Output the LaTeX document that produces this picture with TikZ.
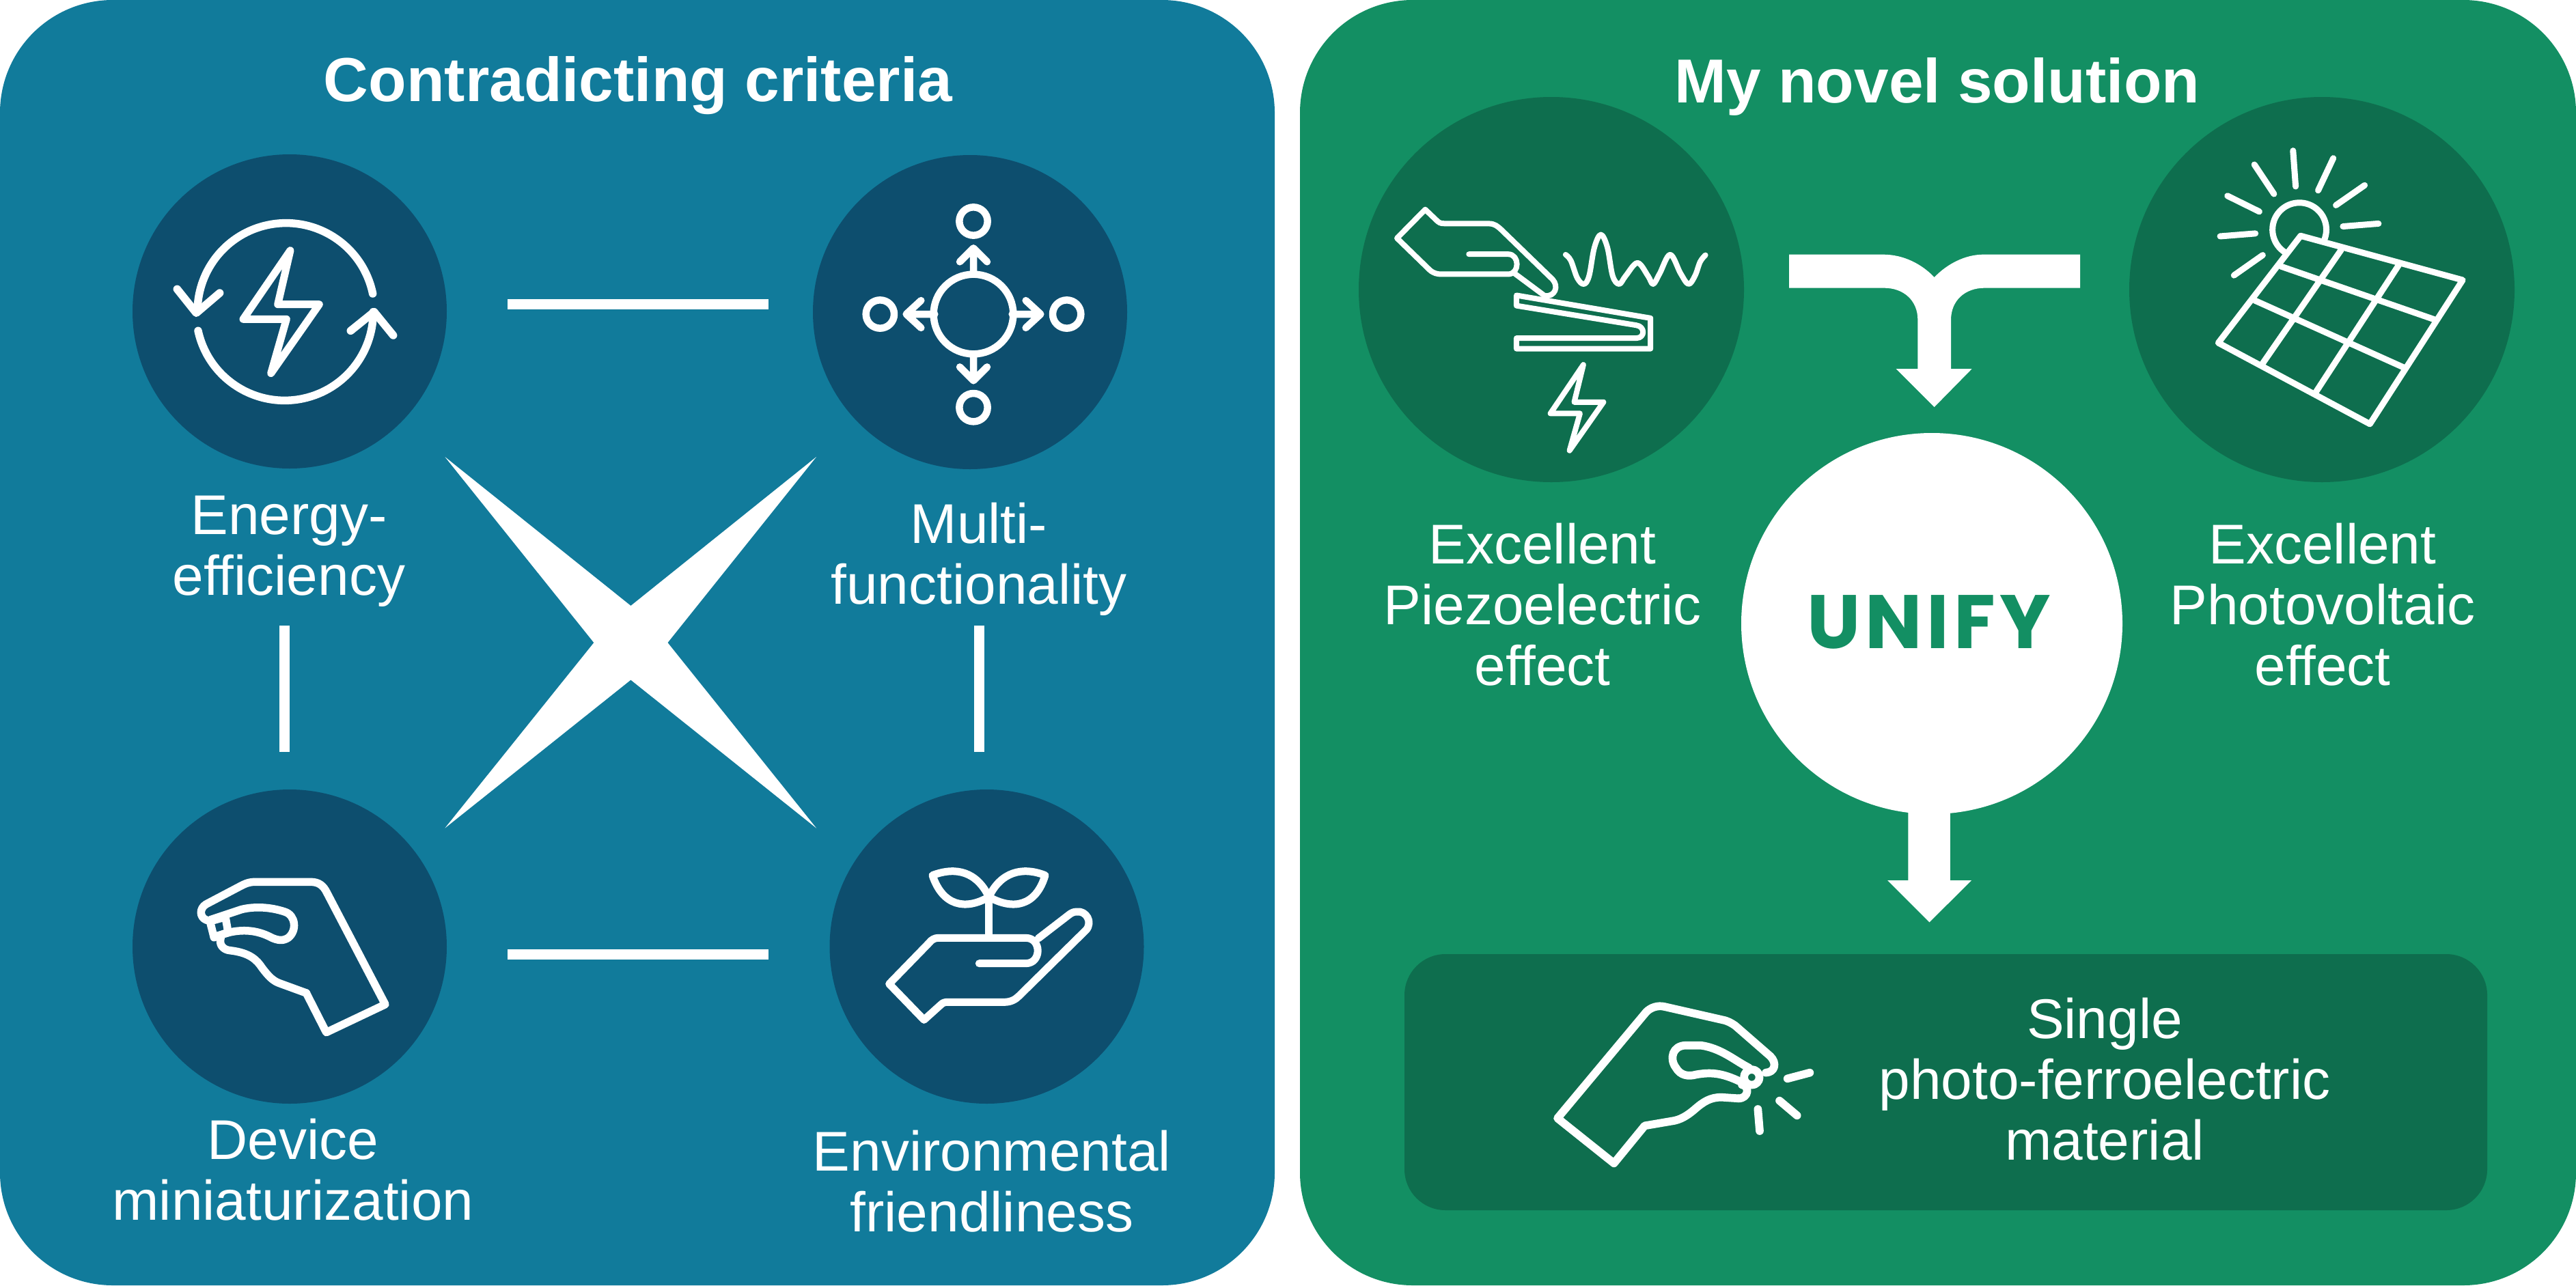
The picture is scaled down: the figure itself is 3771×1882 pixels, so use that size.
\documentclass[tikz,border=0pt]{standalone}
\usepackage{fontspec}
\setmainfont{Liberation Sans}
\newfontfamily\unifyf[LetterSpace=6]{Poppins}
\definecolor{panelblue}{RGB}{17,123,155}
\definecolor{darkblue}{RGB}{13,78,110}
\definecolor{panelgreen}{RGB}{19,143,99}
\definecolor{darkgreen}{RGB}{14,110,78}
\tikzset{
  panelbox/.style={rounded corners=165pt,minimum height=1882pt,inner sep=0pt,outer sep=0pt},
  disc/.style={circle,inner sep=0pt,outer sep=0pt,minimum size=2*#1},
  label/.style={text=white,align=center,inner sep=0pt,font=\fontsize{82}{89}\selectfont},
  titletext/.style={text=white,align=center,inner sep=0pt,font=\fontsize{91}{96}\selectfont\bfseries},
  zm/.style 2 args={shift={(#1,#2)},x=.33333pt,y=-.33333pt},
  zmw/.style 2 args={shift={(#1,#2)},x=.38265pt,y=-.34439pt},
  ico/.style={draw=white,line cap=round,line join=round,line width=#1},
  conn/.style={draw=white,line width=15pt},
}
\begin{document}
\begin{tikzpicture}[x=1pt,y=-1pt]
\useasboundingbox (0,0) rectangle (3771,1882);
% panels
\node[panelbox,fill=panelblue,minimum width=1866pt] (pl) at (933,941) {};
\node[panelbox,fill=panelgreen,minimum width=1868pt] (pr) at (2837,941) {};
% discs
\node[disc=230pt,fill=darkblue] (energy) at (424,456) {};
\node[disc=230pt,fill=darkblue] (multi) at (1420,457) {};
\node[disc=230pt,fill=darkblue] (device) at (424,1386) {};
\node[disc=230pt,fill=darkblue] (env) at (1444.5,1386) {};
\node[disc=282pt,fill=darkgreen] (piezo) at (2271,424) {};
\node[disc=282pt,fill=darkgreen] (photo) at (3399,424) {};
\node[disc=279pt,fill=white] (unify) at (2828,913) {};
\node[rounded corners=60pt,fill=darkgreen,minimum width=1585pt,minimum height=375pt,inner sep=0pt,outer sep=0pt] (single) at (2848.5,1584.5) {};
% titles and labels
\node[titletext] (t1) at (934,125) {Contradicting criteria};
\node[titletext] (t2) at (2836,127) {My novel solution};
\node[label] (l1) at (423,807) {Energy-\\efficiency};
\node[label] (l2) at (1433,819) {Multi-\\functionality};
\node[label] (l3) at (429,1713) {Device\\miniaturization};
\node[label] (l4) at (1452,1730) {Environmental\\friendliness};
\node[label] (l5) at (2258,885) {Excellent\\Piezoelectric\\effect};
\node[label] (l6) at (3400,885) {Excellent\\Photovoltaic\\effect};
\node[label] (l7) at (3081,1580) {Single\\photo-ferroelectric\\material};
\node[text=panelgreen,inner sep=0pt,font=\fontsize{111}{116}\selectfont\unifyf\bfseries] (ut) at (2824,911) {UNIFY};
% connectors
\coordinate (a1) at (743,445); \coordinate (a2) at (1125,445);
\coordinate (b1) at (743,1397); \coordinate (b2) at (1125,1397);
\coordinate (c1) at (416,916); \coordinate (c2) at (416,1101);
\coordinate (d1) at (1433,916); \coordinate (d2) at (1433,1101);
\draw[conn] (a1) -- (a2);
\draw[conn] (b1) -- (b2);
\draw[conn] (c1) -- (c2);
\draw[conn] (d1) -- (d2);
% contradiction cross
\fill[white] (651.4,669) -- (923.4,887) -- (1195,669) -- (977.4,941) -- (1195,1212.5) -- (923.4,995.5) -- (651.4,1212.5) -- (869.4,941) -- cycle;
% merging arrow
\begin{scope}[zm={2580}{340}]
\fill[white] (117,98) -- (530,98) .. controls (620,98) and (700,140) .. (755,198) .. controls (810,140) and (890,98) .. (970,98) -- (1395,98) -- (1395,245) -- (975,245) .. controls (890,245) and (828,300) .. (828,385) -- (828,600) -- (920,600) -- (755,768) -- (587,600) -- (682,600) -- (682,385) .. controls (682,300) and (620,245) .. (535,245) -- (117,245) -- cycle;
\end{scope}
% output arrow
\fill[white] (2793.4,1180) -- (2854.8,1180) -- (2854.8,1289) -- (2886,1289) -- (2824.5,1350.4) -- (2763,1289) -- (2793.4,1289) -- cycle;
% icon: energy
\begin{scope}[zm={180}{200}]
\draw[ico=11.5pt] (1097,690) arc[start angle=-11.7,end angle=-179.3,radius=389];
\draw[ico=11.5pt] (330,853) arc[start angle=167.7,end angle=0,radius=389];
\draw[ico=11.5pt] (238,670) -- (322,775) -- (425,687);
\draw[ico=11.5pt] (1000,853) -- (1103,770) -- (1187,873);
\draw[ico=11pt] (735,500) -- (528,802) -- (718,802) -- (650,1040) -- (862,737) -- (680,737) -- cycle;
\end{scope}
% icon: multi
\begin{scope}[zm={1180}{220}]
\draw[ico=10.5pt] (735,720) circle[radius=175];
\draw[ico=10.5pt] (735,312) circle[radius=62];
\draw[ico=10.5pt] (1145,720) circle[radius=62];
\draw[ico=10.5pt] (325,720) circle[radius=62];
\draw[ico=10.5pt] (735,1130) circle[radius=62];
\draw[ico=10.5pt] (735,545) -- (735,430) (675,490) -- (735,430) -- (795,490);
\draw[ico=10.5pt] (905,720) -- (1030,720) (965,660) -- (1030,720) -- (965,780);
\draw[ico=10.5pt] (565,720) -- (440,720) (505,660) -- (440,720) -- (505,780);
\draw[ico=10.5pt] (735,895) -- (735,1012) (675,952) -- (735,1012) -- (795,952);
\end{scope}
% icon: device
\begin{scope}[zm={180}{1150}]
\draw[ico=11.5pt] (805,912) -- (893,1085) -- (1152,962) -- (895,470) .. controls (880,440) and (860,424) .. (825,424) -- (580,424) .. controls (550,424) and (530,435) .. (515,443) -- (365,522) .. controls (335,540) and (335,580) .. (368,592);
\draw[ico=11.5pt] (385,590) -- (520,545) .. controls (580,530) and (650,535) .. (710,555) .. controls (760,570) and (765,640) .. (725,670) .. controls (700,685) and (680,680) .. (655,670) .. controls (600,640) and (540,630) .. (470,645) -- (400,665);
\draw[ico=11.5pt] (382,597) -- (450,578) -- (462,645) -- (400,668) -- cycle;
\draw[ico=11.5pt] (430,668) .. controls (420,700) and (440,722) .. (470,725) .. controls (560,735) and (590,770) .. (610,800) .. controls (640,840) and (660,860) .. (690,870) -- (805,912);
\end{scope}
% icon: environment
\begin{scope}[zm={1200}{1170}]
\draw[ico=11pt] (700,722) -- (905,722) .. controls (975,722) and (975,610) .. (905,610) -- (520,610) .. controls (505,610) and (490,618) .. (480,632) -- (305,812) -- (458,970) -- (530,905) .. controls (540,895) and (548,892) .. (560,892) -- (810,892) .. controls (840,892) and (860,880) .. (875,865) -- (1170,575) .. controls (1200,540) and (1170,490) .. (1130,495) .. controls (1115,495) and (1105,500) .. (1095,508) -- (960,612);
\draw[ico=11pt] (743,610) -- (743,430);
\draw[ico=11pt] (495,335) .. controls (600,295) and (690,320) .. (743,430) .. controls (640,490) and (540,470) .. (495,335) -- cycle;
\draw[ico=11pt] (990,335) .. controls (890,295) and (795,320) .. (743,430) .. controls (850,490) and (950,470) .. (990,335) -- cycle;
\end{scope}
% icon: piezoelectric
\begin{scope}[zmw={1980}{180}]
\draw[ico=8pt] (445,558) -- (595,558) .. controls (640,558) and (640,643) .. (595,643) -- (340,643) .. controls (325,643) and (310,640) .. (295,625) -- (170,490) -- (278,368) -- (325,418) .. controls (335,428) and (345,428) .. (355,428) -- (520,428) .. controls (545,428) and (555,440) .. (570,455) -- (765,665) .. controls (790,695) and (775,740) .. (735,735) -- (620,640);
\draw[ico=8pt] (627,733) -- (1140,830) -- (1140,960) -- (627,960) -- (627,915) -- (1085,915) .. controls (1120,915) and (1120,865) .. (1085,860) -- (627,777) -- cycle;
\draw[ico=8pt] plot[smooth,tension=.6] coordinates {(815,560) (835,585) (860,660) (885,685) (905,650) (925,530) (950,475) (975,530) (995,650) (1020,685) (1045,650) (1090,595) (1130,650) (1150,685) (1175,640) (1215,560) (1255,640) (1285,685) (1310,650) (1330,590) (1350,562)};
\draw[ico=8pt] (883,1028) -- (757,1235) -- (870,1235) -- (830,1393) -- (960,1187) -- (848,1187) -- cycle;
\end{scope}
% icon: photovoltaic
\begin{scope}[zmw={3100}{180}]
\draw[ico=9pt] (640,550) arc[start angle=122.5,end angle=380,x radius=103,y radius=114.4];
\draw[ico=9pt] (700,480) -- (1320,668) -- (965,1280) -- (385,935) -- cycle;
\draw[ico=9pt] (625,610) -- (1210,835) (525,755) -- (1095,1040) (855,540) -- (550,1030) (1075,605) -- (755,1150);
\draw[ico=9pt] (671,118) -- (681,270) (523,177) -- (598,302) (825,150) -- (767,287) (945,265) -- (835,350) (998,428) -- (862,440) (420,310) -- (542,377) (392,482) -- (527,470) (555,562) -- (445,648);
\end{scope}
% icon: single material
\begin{scope}[zm={2220}{1420}]
\draw[ico=11.7pt] (975,565) .. controls (1020,565) and (1025,510) .. (990,505);
\draw[ico=11.7pt] (975,565) -- (900,560) .. controls (850,560) and (820,580) .. (780,615) .. controls (750,640) and (720,660) .. (680,665) -- (563,685) -- (428,850) -- (180,652) -- (570,185) .. controls (590,165) and (620,155) .. (650,162) -- (905,220) .. controls (930,225) and (945,235) .. (960,245) -- (1115,380) .. controls (1145,410) and (1135,450) .. (1095,452);
\draw[ico=11.7pt] (1020,430) .. controls (960,400) and (900,345) .. (810,332) -- (745,332) .. controls (685,332) and (670,390) .. (700,430) .. controls (720,465) and (755,470) .. (790,460) .. controls (850,450) and (900,450) .. (990,495);
\draw[ico=11.7pt] (1033,472) circle[radius=34];
\draw[ico=11.7pt] (1190,478) -- (1288,452) (1155,575) -- (1232,640) (1060,612) -- (1068,708);
\end{scope}
\end{tikzpicture}
\end{document}
